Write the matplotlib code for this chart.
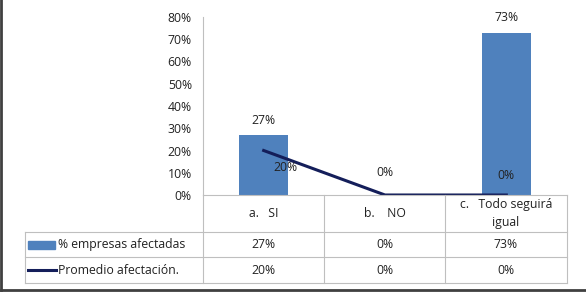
import matplotlib.pyplot as plt
import numpy as np
from matplotlib.lines import Line2D
from matplotlib.patches import Rectangle

categories = ["a.   SI", "b.    NO", "c.   Todo seguirá\nigual"]
empresas = [0.27, 0.0, 0.73]
promedio = [0.20, 0.0, 0.0]
series_names = ["% empresas afectadas", "Promedio afectación."]
yticks = [0, 0.1, 0.2, 0.3, 0.4, 0.5, 0.6, 0.7, 0.8]

W, H = 586, 292
bar_color = '#4F81BD'
line_color = '#141E5A'
grid_color = '#BFBFBF'
plt.rcParams['font.family'] = ['Open Sans', 'DejaVu Sans']
fs = 8.8

fig = plt.figure(figsize=(W / 100, H / 100), dpi=100)

def fx(px):
    return px / W

def fy(py):
    return 1 - py / H

# plot area in pixels
x0, x1, y0, y1 = 203, 567, 195, 17
ax = fig.add_axes([fx(x0), fy(y0), fx(x1) - fx(x0), fy(y1) - fy(y0)])
x = np.arange(len(categories))
ax.bar(x, empresas, width=0.4, color=bar_color, zorder=2)
ax.plot(x, promedio, color=line_color, lw=2.2, zorder=3)
ax.set_xlim(-0.5, len(categories) - 0.5)
ax.set_ylim(0, 0.8)
ax.set_yticks(yticks)
ax.set_yticklabels(["%d%%" % round(v * 100) for v in yticks], fontsize=fs, color='#222222')
ax.set_xticks([])
ax.tick_params(axis='y', length=0, pad=8)
for s in ['top', 'right', 'bottom']:
    ax.spines[s].set_visible(False)
ax.spines['left'].set_color(grid_color)

# data labels
for i, v in enumerate(empresas):
    if v > 0:
        ax.annotate("%d%%" % round(v * 100), (i, v), xytext=(0, 6), textcoords='offset points',
                    ha='center', va='bottom', fontsize=fs, color='#222222')
lbl_off = [(16, -12), (0, 16), (0, 14)]
for i, v in enumerate(promedio):
    ax.annotate("%d%%" % round(v * 100), (i, v), xytext=lbl_off[i], textcoords='offset points',
                ha='center', va='center', fontsize=fs, color='#222222')

# data table
cols = [203, 324, 445, 567]
tl = 25
rows = [195, 232, 257, 283]
lk = dict(color=grid_color, lw=0.8, transform=fig.transFigure)
fig.add_artist(Line2D([fx(cols[0]), fx(cols[-1])], [fy(rows[0])] * 2, **lk))
for r in rows[1:]:
    fig.add_artist(Line2D([fx(tl), fx(cols[-1])], [fy(r)] * 2, **lk))
for c in cols:
    fig.add_artist(Line2D([fx(c)] * 2, [fy(rows[0]), fy(rows[-1])], **lk))
fig.add_artist(Line2D([fx(tl)] * 2, [fy(rows[1]), fy(rows[-1])], **lk))

for j, cat in enumerate(categories):
    cx = (cols[j] + cols[j + 1]) / 2
    fig.text(fx(cx), fy((rows[0] + rows[1]) / 2), cat, ha='center', va='center',
             fontsize=fs, color='#222222', linespacing=1.45)

for k, (name, vals) in enumerate(zip(series_names, [empresas, promedio])):
    cy = (rows[k + 1] + rows[k + 2]) / 2
    if k == 0:
        fig.add_artist(Rectangle((fx(28), fy(cy + 4)), fx(55) - fx(28), fy(cy - 4) - fy(cy + 4),
                                 color=bar_color, transform=fig.transFigure))
    else:
        fig.add_artist(Line2D([fx(28), fx(56)], [fy(cy)] * 2, color=line_color, lw=2.2,
                              transform=fig.transFigure))
    fig.text(fx(58), fy(cy), name, ha='left', va='center', fontsize=fs, color='#222222')
    for j, v in enumerate(vals):
        cx = (cols[j] + cols[j + 1]) / 2
        fig.text(fx(cx), fy(cy), "%d%%" % round(v * 100), ha='center', va='center',
                 fontsize=fs, color='#222222')

# outer chart border (left and bottom visible)
bk = dict(color='#404040', lw=2, transform=fig.transFigure)
fig.add_artist(Line2D([fx(1), fx(1)], [fy(0), fy(290)], **bk))
fig.add_artist(Line2D([fx(1), fx(586)], [fy(290), fy(290)], **bk))

fig.savefig('out.png', dpi=100)
